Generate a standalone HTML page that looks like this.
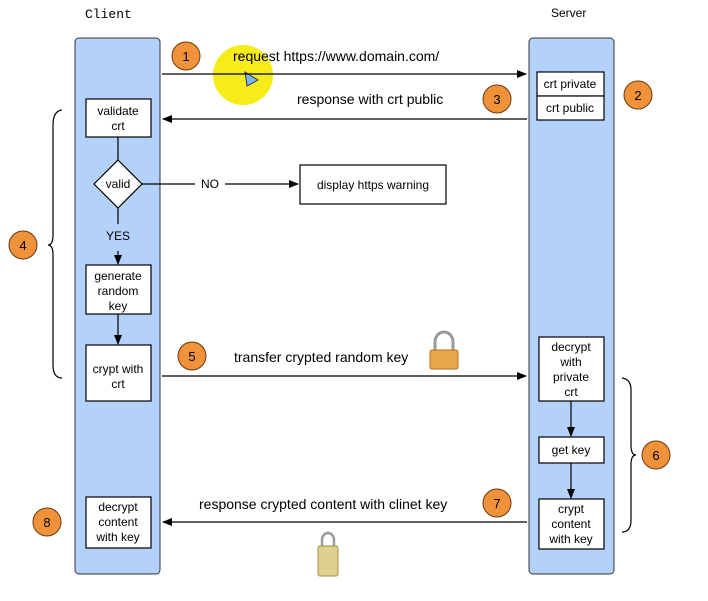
<!DOCTYPE html><html><head><style>body{margin:0;background:#fff}svg{display:block}</style></head><body>
<svg width="708" height="601" xmlns="http://www.w3.org/2000/svg" font-family="Liberation Sans, sans-serif">
<defs><marker id="a" markerWidth="10" markerHeight="8" refX="9" refY="4" orient="auto" markerUnits="userSpaceOnUse"><path d="M0,0 L10,4 L0,8z" fill="#000"/></marker></defs>
<text x="85" y="18" font-family="Liberation Mono, monospace" font-size="13">Client</text>
<text x="551" y="17" font-size="12">Server</text>
<rect x="75" y="38" width="85" height="536" rx="4" fill="#b3d1fb" stroke="#333" stroke-width="1"/>
<rect x="529" y="38" width="85" height="536" rx="4" fill="#b3d1fb" stroke="#333" stroke-width="1"/>
<circle cx="243" cy="75" r="30" fill="#f5ec1a"/>
<path d="M245,72 L258,80 L247,86z" fill="#7ab8e8" stroke="#336" stroke-width="1"/>
<g stroke="#000" stroke-width="1.2" fill="none">
<line x1="162" y1="74" x2="526" y2="74" marker-end="url(#a)"/>
<line x1="527" y1="119" x2="163" y2="119" marker-end="url(#a)"/>
<line x1="118" y1="137" x2="118" y2="160"/>
<line x1="142" y1="184" x2="195" y2="184"/>
<line x1="225" y1="184" x2="298" y2="184" marker-end="url(#a)"/>
<line x1="118" y1="208" x2="118" y2="224"/>
<line x1="118" y1="251" x2="118" y2="264" marker-end="url(#a)"/>
<line x1="118" y1="314" x2="118" y2="344" marker-end="url(#a)"/>
<line x1="162" y1="376" x2="526" y2="376" marker-end="url(#a)"/>
<line x1="527" y1="522" x2="163" y2="522" marker-end="url(#a)"/>
<line x1="571" y1="401" x2="571" y2="436" marker-end="url(#a)"/>
<line x1="571" y1="463" x2="571" y2="498" marker-end="url(#a)"/>
<path d="M62,110 Q53,111 53,125 L53,235 Q53,245 48,245 Q53,245 53,255 L53,365 Q53,378 62,378"/>
<path d="M622,378 Q631,379 631,390 L631,445 Q631,455 636,455 Q631,455 631,465 L631,520 Q631,532 622,532"/>
</g>
<g fill="#fff" stroke="#000" stroke-width="1.2">
<rect x="86" y="99" width="65" height="38"/>
<path d="M118,160 L142,184 L118,208 L94,184z"/>
<rect x="86" y="265" width="65" height="49"/>
<rect x="86" y="345" width="65" height="56"/>
<rect x="86" y="497" width="65" height="51"/>
<rect x="300" y="165" width="146" height="39"/>
<rect x="537" y="72" width="67" height="24"/>
<rect x="537" y="96" width="67" height="24"/>
<rect x="539" y="337" width="65" height="64"/>
<rect x="539" y="437" width="65" height="26"/>
<rect x="539" y="499" width="65" height="50"/>
</g>
<g font-size="12" text-anchor="middle">
<text x="118" y="115">validate</text><text x="118" y="130">crt</text>
<text x="118" y="188">valid</text>
<text x="210" y="188">NO</text><text x="118" y="240">YES</text>
<text x="118" y="280">generate</text><text x="118" y="295">random</text><text x="118" y="310">key</text>
<text x="118" y="373">crypt with</text><text x="118" y="388">crt</text>
<text x="118" y="511">decrypt</text><text x="118" y="526">content</text><text x="118" y="541">with key</text>
<text x="373" y="189">display https warning</text>
<text x="570" y="88">crt private</text><text x="570" y="112">crt public</text>
<text x="571" y="351">decrypt</text><text x="571" y="366">with</text><text x="571" y="381">private</text><text x="571" y="396">crt</text>
<text x="571" y="454">get key</text>
<text x="571" y="513">crypt</text><text x="571" y="528">content</text><text x="571" y="543">with key</text>
</g>
<g font-size="14">
<text x="233" y="61">request https://www.domain.com/</text>
<text x="297" y="104">response with crt public</text>
<text x="234" y="362">transfer crypted random key</text>
<text x="199" y="509">response crypted content with clinet key</text>
</g>
<g fill="#f0923a" stroke="#6b3a10" stroke-width="1">
<circle cx="186" cy="56" r="14"/><circle cx="638" cy="95" r="14"/><circle cx="497" cy="99" r="14"/><circle cx="23" cy="245" r="14"/>
<circle cx="192" cy="356" r="14"/><circle cx="656" cy="455" r="14"/><circle cx="497" cy="503" r="14"/><circle cx="47" cy="522" r="14"/>
</g>
<g font-size="13" text-anchor="middle">
<text x="186" y="61">1</text><text x="638" y="100">2</text><text x="497" y="104">3</text><text x="23" y="250">4</text>
<text x="192" y="361">5</text><text x="656" y="460">6</text><text x="497" y="508">7</text><text x="47" y="527">8</text>
</g>
<path d="M435,352 L435,342 A9,10 0 0 1 453,342 L453,352" fill="none" stroke="#999" stroke-width="3"/>
<rect x="430" y="350" width="28" height="19" rx="2" fill="#e8a84a" stroke="#b07020"/>
<path d="M322,548 L322,540 A6,7 0 0 1 334,540 L334,548" fill="none" stroke="#999" stroke-width="2.5"/>
<rect x="318" y="546" width="20" height="30" rx="2" fill="#e0d090" stroke="#a09040"/>
</svg></body></html>
